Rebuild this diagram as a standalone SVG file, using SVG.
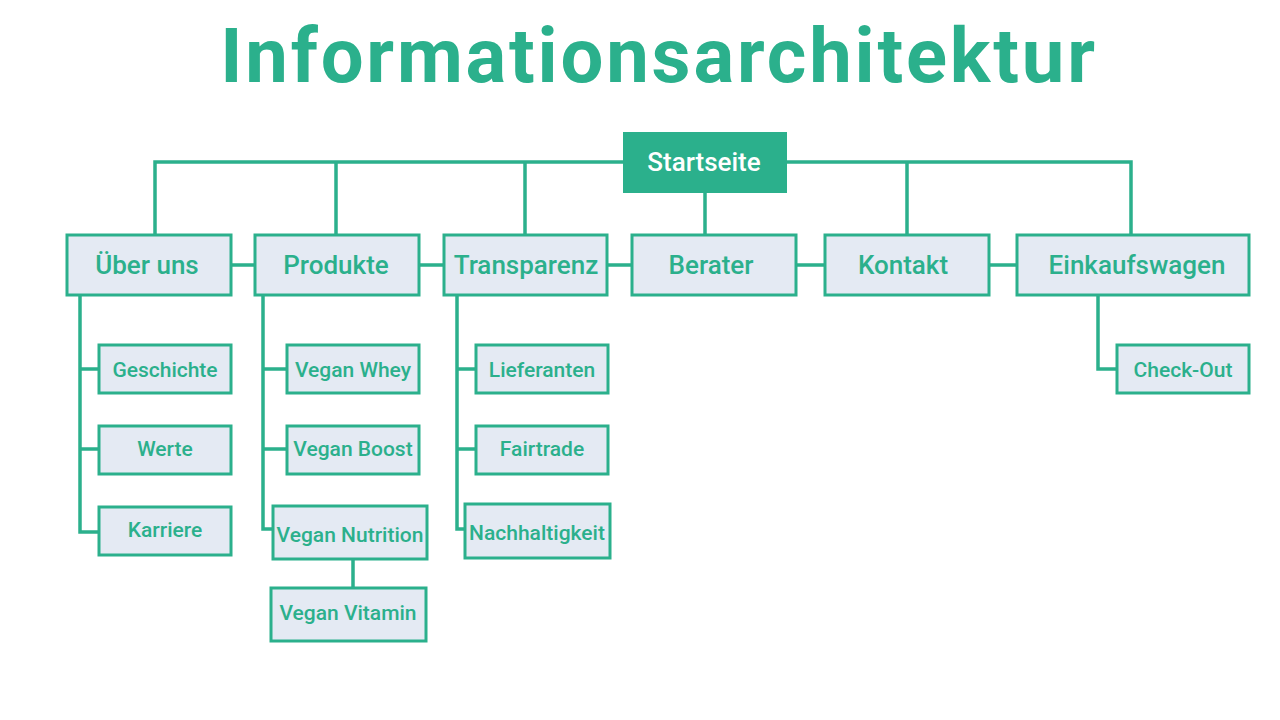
<svg xmlns="http://www.w3.org/2000/svg" width="1280" height="720" viewBox="0 0 1280 720">
<style>
.box{fill:#E4EAF3;stroke:#2BB08C;stroke-width:3}
.root{fill:#2BB08C;stroke:#2BB08C;stroke-width:2}
.t1{font-family:Roboto,"Liberation Sans",sans-serif;font-weight:500;font-size:26px;fill:#2BB08C;text-anchor:middle;dominant-baseline:central}
.t2{font-family:Roboto,"Liberation Sans",sans-serif;font-weight:500;font-size:21px;fill:#2BB08C;text-anchor:middle;dominant-baseline:central}
.tr{font-family:Roboto,"Liberation Sans",sans-serif;font-weight:500;font-size:26px;fill:#FFFFFF;text-anchor:middle;dominant-baseline:central}
.title{font-family:Roboto,"Liberation Sans",sans-serif;font-weight:700;font-size:76px;fill:#2BB08C;text-anchor:middle;letter-spacing:2.8px}
.c{fill:none;stroke:#2BB08C;stroke-width:3.5}
</style>
<rect width="1280" height="720" fill="#FFFFFF"/>
<text class="title" x="659" y="82">Informationsarchitektur</text>
<g id="connectors">
<path class="c" d="M155 235V162H1131V235M336 162V235M525 162V235M907 162V235M705 192V235"/>
<path class="c" d="M231 265H255M419 265H444M607 265H632M796 265H825M989 265H1017"/>
<path class="c" d="M80 295V532H99M80 369H99M80 449H99"/>
<path class="c" d="M263 295V529H273M263 369H287M263 449H287M353 559V588"/>
<path class="c" d="M457 295V529H465M457 369H476M457 449H476"/>
<path class="c" d="M1098 295V369H1117"/>
</g>
<g id="startseite"><rect class="root" x="624" y="133" width="162" height="59"/><text class="tr" x="704" y="162">Startseite</text></g>
<g id="ueber-uns"><rect class="box" x="67" y="235" width="164" height="60"/><text class="t1" x="147" y="265">Über uns</text></g>
<g id="produkte"><rect class="box" x="255" y="235" width="164" height="60"/><text class="t1" x="336" y="265">Produkte</text></g>
<g id="transparenz"><rect class="box" x="444" y="235" width="163" height="60"/><text class="t1" x="526" y="265">Transparenz</text></g>
<g id="berater"><rect class="box" x="632" y="235" width="164" height="60"/><text class="t1" x="711" y="265">Berater</text></g>
<g id="kontakt"><rect class="box" x="825" y="235" width="164" height="60"/><text class="t1" x="903" y="265">Kontakt</text></g>
<g id="einkaufswagen"><rect class="box" x="1017" y="235" width="232" height="60"/><text class="t1" x="1137" y="265">Einkaufswagen</text></g>
<g id="geschichte"><rect class="box" x="99" y="345" width="132" height="48"/><text class="t2" x="165" y="370">Geschichte</text></g>
<g id="werte"><rect class="box" x="99" y="426" width="132" height="48"/><text class="t2" x="165" y="449">Werte</text></g>
<g id="karriere"><rect class="box" x="99" y="507" width="132" height="48"/><text class="t2" x="165" y="530">Karriere</text></g>
<g id="vegan-whey"><rect class="box" x="287" y="345" width="132" height="48"/><text class="t2" x="353" y="370">Vegan Whey</text></g>
<g id="vegan-boost"><rect class="box" x="287" y="426" width="132" height="48"/><text class="t2" x="353" y="449">Vegan Boost</text></g>
<g id="vegan-nutrition"><rect class="box" x="273" y="506" width="154" height="53"/><text class="t2" x="350" y="535">Vegan Nutrition</text></g>
<g id="vegan-vitamin"><rect class="box" x="271" y="588" width="155" height="53"/><text class="t2" x="348" y="613">Vegan Vitamin</text></g>
<g id="lieferanten"><rect class="box" x="476" y="345" width="132" height="48"/><text class="t2" x="542" y="370">Lieferanten</text></g>
<g id="fairtrade"><rect class="box" x="476" y="426" width="132" height="48"/><text class="t2" x="542" y="449">Fairtrade</text></g>
<g id="nachhaltigkeit"><rect class="box" x="465" y="504" width="145" height="54"/><text class="t2" x="537" y="533">Nachhaltigkeit</text></g>
<g id="check-out"><rect class="box" x="1117" y="345" width="132" height="48"/><text class="t2" x="1183" y="370">Check-Out</text></g>
</svg>
